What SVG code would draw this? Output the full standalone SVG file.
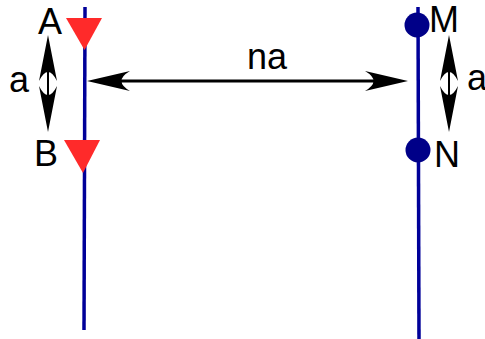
<svg xmlns="http://www.w3.org/2000/svg" width="485" height="339" viewBox="0 0 485 339">
  <style>
    .lbl { font-family: "Liberation Sans", Arial, sans-serif; font-size: 36px; fill: #000; }
    .rail { stroke: #000099; stroke-width: 3.5; fill: none; }
    .tri { fill: #ff2a2a; }
    .dot { fill: #000088; }
    .shaft { stroke: #000; fill: none; }
    .head { fill: #000; }
  </style>
  <defs>
    <path id="headV" d="M0,0 L-46,-9 Q-28,0 -46,9 Z"/>
    <path id="headH" d="M0,0 L-43,-10 Q-26,0 -43,10 Z"/>
  </defs>
  <g id="rails">
    <line class="rail" x1="85" y1="7" x2="84" y2="330"/>
    <line class="rail" x1="418" y1="7" x2="419" y2="339"/>
  </g>
  <g id="node-A">
    <polygon class="tri" points="66,18 102,18 84.5,50"/>
    <text class="lbl" x="38" y="34">A</text>
  </g>
  <g id="node-B">
    <polygon class="tri" points="64,140 100,140 83,173"/>
    <text class="lbl" x="34" y="166">B</text>
  </g>
  <g id="node-M">
    <circle class="dot" cx="417" cy="25" r="12.5"/>
    <text class="lbl" x="429" y="32">M</text>
  </g>
  <g id="node-N">
    <circle class="dot" cx="418" cy="150" r="12.5"/>
    <text class="lbl" x="434" y="167">N</text>
  </g>
  <g id="connectors">
    <line class="shaft" stroke-width="2" x1="48" y1="50" x2="48" y2="117"/>
    <use href="#headV" class="head" transform="translate(48,35) rotate(-90)"/>
    <use href="#headV" class="head" transform="translate(48,132) rotate(90)"/>
    <text class="lbl" x="9" y="92">a</text>

    <line class="shaft" stroke-width="2" x1="449" y1="50" x2="449" y2="117"/>
    <use href="#headV" class="head" transform="translate(449,35) rotate(-90)"/>
    <use href="#headV" class="head" transform="translate(449,132) rotate(90)"/>
    <text class="lbl" x="467" y="90">a</text>

    <line class="shaft" stroke-width="3" x1="100" y1="81" x2="395" y2="81"/>
    <use href="#headH" class="head" transform="translate(87,81) rotate(180)"/>
    <use href="#headH" class="head" transform="translate(408,81)"/>
    <text class="lbl" x="267" y="69" text-anchor="middle">na</text>
  </g>
</svg>
